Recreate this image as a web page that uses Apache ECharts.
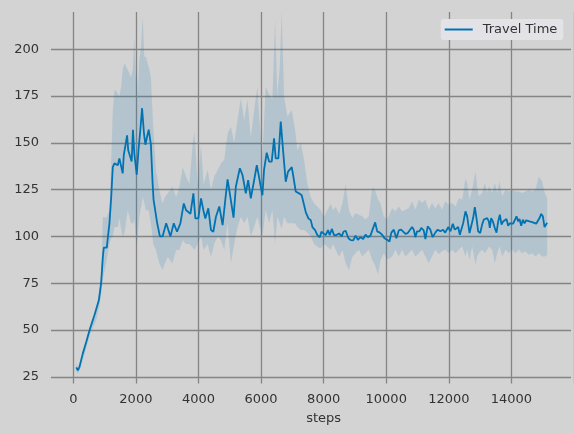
<!DOCTYPE html>
<html>
<head>
<meta charset="utf-8">
<script src="https://cdn.jsdelivr.net/npm/echarts@6/dist/echarts.min.js"></script>
<style>
html,body{margin:0;padding:0;background:#d3d3d3;}
#chart{width:574px;height:434px;}
</style>
</head>
<body>
<div id="chart"></div>
<script>
const seriesName = 'Travel Time';
const xAxisName = 'steps';

const lineSteps = [50,100,150,260,370,475,560,630,685,770,840,895,925,980,1020,1075,1105,1160,1210,1265,1315,1370,1420,1475,1525,1560,1610,1665,1700,1760,1810,1850,1895,1970,2030,2075,2140,2200,2245,2295,2350,2420,2475,2505,2560,2620,2705,2790,2905,3040,3145,3250,3355,3463,3537,3610,3674,3768,3830,3926,4010,4084,4147,4242,4326,4400,4484,4590,4695,4780,4853,4906,5042,5116,5242,5327,5432,5506,5590,5696,5780,5830,5905,5958,6010,6095,6170,6254,6328,6380,6465,6540,6614,6698,6772,6835,6890,6940,7015,7120,7205,7280,7333,7418,7492,7545,7630,7703,7778,7830,7893,7968,8040,8095,8160,8232,8306,8390,8475,8530,8600,8687,8760,8840,8913,8987,9070,9156,9230,9304,9388,9462,9536,9600,9684,9757,9831,9916,9990,10050,10127,10210,10285,10360,10422,10496,10570,10633,10707,10760,10812,10865,10940,11000,11076,11130,11203,11287,11360,11445,11520,11605,11690,11760,11852,11926,12000,12063,12116,12170,12222,12275,12328,12402,12455,12530,12592,12645,12698,12751,12804,12868,12930,12984,13037,13090,13143,13174,13217,13270,13333,13386,13440,13492,13545,13598,13650,13703,13756,13810,13862,13915,13968,14021,14074,14116,14170,14222,14275,14328,14381,14434,14487,14540,14593,14645,14698,14751,14804,14857,14910,14963,14995];
const lineValues = [30,28.5,30,37.5,43.7,50,54.4,58,58,66,75,89,94,93,94,102.5,107,121,137,139,140,138,141.7,142.6,133.7,143.5,144,154,146,145,140,157,144,133,147,155,168.5,155,149,153,157,149,128,119.5,119.5,107,100,100,107,100,107,102.5,107,117.6,114,113,112,123,109.6,109.6,120.3,114,109.6,115,103.4,102.5,110.5,116,106,119.4,130.5,124.8,110,126.6,136.4,132.8,123,130,120.3,130,138,133.7,126.6,122,135.5,144.7,140,140,152.4,141.7,141.7,161.3,146,129.2,134.6,133.7,137,132,124,123,122,116.8,113,109.6,108.7,105,103.4,100.7,99.5,102.5,102,100.7,103.4,100.7,104,100.7,100.7,101.6,100,102.5,103,99,98,97.9,100.4,98.2,99.6,98.6,100.9,99.6,100.4,104,107.5,102.7,102,100.9,99,98.2,97.3,102,103.6,99,103.2,103.6,103.2,101.4,101.8,101.4,105,103.6,99.6,102.7,102.7,104.5,103.2,98.6,105.4,103.6,99.6,102,103.6,102.7,103.6,102,105,102.7,106.8,103.6,104.5,105,100.9,100.4,107,113.4,110.7,101.8,102.7,109.8,115.7,109.8,102.7,101.8,106.3,109,108,109.8,108,104.5,109.8,108,104.5,102,108,111.6,106.3,108,108,109.3,105.7,107,108,106.8,107,110.7,108,109.3,105.7,108.9,107,108.6,107.9,108,108,107.5,108,106.8,107.5,109.8,112,110.7,105,105.4,107.3];

const bandSteps = [50,100,150,300,500,700,800,850,895,1000,1105,1160,1210,1265,1315,1370,1420,1475,1525,1580,1685,1790,1850,1895,1940,1970,2005,2050,2100,2160,2210,2260,2350,2420,2495,2580,2685,2790,2865,2955,3100,3220,3325,3430,3535,3640,3750,3800,3905,4010,4095,4220,4326,4430,4537,4642,4747,4853,4958,5063,5169,5274,5380,5485,5590,5696,5800,5850,5958,6063,6170,6275,6360,6434,6508,6571,6645,6751,6890,6995,7069,7174,7280,7386,7492,7598,7703,7809,7915,8020,8125,8200,8285,8390,8496,8600,8705,8810,8913,9020,9125,9230,9335,9440,9525,9630,9700,9810,9915,10075,10180,10285,10390,10496,10600,10707,10812,10918,11025,11130,11235,11340,11445,11550,11655,11760,11870,11980,12085,12190,12296,12402,12455,12530,12614,12720,12772,12825,12930,13015,13090,13143,13250,13333,13408,13482,13567,13672,13778,13884,13990,14095,14200,14306,14412,14518,14624,14730,14835,14920,14995];
const bandLower = [28,26.5,28,36,48,56,64,70,77,85.6,96,99,100,105,105,105,110,104,100,101.6,114,107,107,108.7,100,94.5,100,110,115,121,118,114,114,107,96,92.7,85.6,82,85.6,89,85.6,92.7,92.7,98,96,96,94,92.7,96,100,92.7,96,89,96,100,98,92.7,107,85.6,96,105,110.5,107,110.5,100,105,110.5,107,100,114,107,114,96,110.5,107,104,110.5,107,107,107,105,103.4,103.4,102,100,96,94.5,93.6,96,94.5,92.7,96,92.7,89,92.7,85.6,82,89,91,92.9,89.3,91,92.9,87.5,84.8,79.5,87,91,87.5,89.3,92.9,89.3,92.9,89.3,91,92.9,89.3,91,92.9,89.3,85.7,89.3,92.9,90.5,92,92.9,91,92.9,91,92.9,94.6,89.3,92.9,87.5,94.6,84.8,89.3,91,92.9,91,92.9,94.6,92.9,85.7,91,94.6,89.3,92.9,91,92.9,91,92.9,91,92,90,91,89.3,91,89.3,89.3,90];
const bandUpper = [32,30.5,32,40,53,61,73,82,110.5,110,114,140,167,178,178,176,175,180,189,192.5,189,185,190,206,185,189,175,194,200,217.5,196,196,190.7,185,158,135.5,125,117.6,121,123,126.6,121,126.6,137,132,128,150,156,128,149,128,135.5,125,132,135.5,139,141,155,158.6,150,162,174,162,173,153,167.5,180,165.8,142.6,180,176,173,215.7,174.7,190.7,220,174.7,164,167.5,157,146,150,141,128,121,117.6,116,114,110.5,114,117.6,114,116,112,117.6,128,114,110,112.5,111.6,110.7,109,110.7,126,125,119.6,117.9,110.7,109,115,113.4,116,113.4,114.3,115,118.8,114.3,119.6,117.9,119.6,114.3,117.9,115,117.9,114.3,118.8,117,117.9,116,120.5,119.6,131,128.6,119.6,125,134.8,126.8,121.4,123.2,128.6,123.2,126.8,123.2,128.6,123.2,129.5,121.4,125,124,125,124,124,123.2,124,125,124,125,132,129.5,123.2,120.5];

const lineColor = '#0173b2';
const bandColor = 'rgba(1,115,178,0.15)';
const gridColor = '#858585';
const textColor = '#333333';
const font = 'DejaVu Sans';

const chart = echarts.init(document.getElementById('chart'), null, {renderer: 'canvas'});

const option = {
  backgroundColor: '#d3d3d3',
  animation: false,
  textStyle: {fontFamily: font},
  legend: {
    data: [{name: seriesName, icon: 'rect'}],
    right: 10.7,
    top: 19,
    padding: [4, 6, 4, 4],
    itemWidth: 28,
    itemHeight: 2,
    itemGap: 0,
    backgroundColor: '#e3e3e7',
    borderRadius: 3,
    itemStyle: {color: lineColor},
    textStyle: {fontFamily: font, fontSize: 13, color: textColor, padding: [0, 0, 0, 5]}
  },
  grid: [
    {left: 51, right: 3, top: 12, bottom: 50.5},
    {left: 51, right: 3, top: 49.3, bottom: 57.2},
    {left: 73.3, right: -5, top: 12, bottom: 50.5}
  ],
  xAxis: [
    {gridIndex: 0, type: 'value', min: -750, max: 15750, show: false},
    {gridIndex: 1, type: 'value', min: 0, max: 1, show: false},
    {gridIndex: 2, type: 'value', min: 0, max: 16000, interval: 2000,
      axisLine: {show: false}, axisTick: {show: false},
      splitLine: {show: true, lineStyle: {color: gridColor, width: 1.3}},
      axisLabel: {margin: 10, fontSize: 13, color: textColor, fontFamily: font, showMaxLabel: false,
        formatter: function (v) { return String(v); }},
      name: xAxisName, nameLocation: 'middle', nameGap: 29,
      nameTextStyle: {fontSize: 13, color: textColor, fontFamily: font}
    }
  ],
  yAxis: [
    {gridIndex: 0, type: 'value', min: 21.4, max: 219.9, show: false},
    {gridIndex: 1, type: 'value', min: 25, max: 200, interval: 25,
      axisLine: {show: false}, axisTick: {show: false},
      splitLine: {show: true, lineStyle: {color: gridColor, width: 1.3}},
      axisLabel: {margin: 12, fontSize: 13, color: textColor, fontFamily: font,
        formatter: function (v) { return String(v); }}
    },
    {gridIndex: 2, type: 'value', min: 0, max: 1, show: false}
  ],
  series: [
    {
      type: 'custom',
      name: 'band',
      xAxisIndex: 0, yAxisIndex: 0,
      silent: true,
      z: 2,
      data: [[0, 100]],
      renderItem: function (params, api) {
        const pts = [];
        for (let i = 0; i < bandSteps.length; i++) pts.push(api.coord([bandSteps[i], bandUpper[i]]));
        for (let i = bandSteps.length - 1; i >= 0; i--) pts.push(api.coord([bandSteps[i], bandLower[i]]));
        return {type: 'polygon', shape: {points: pts}, style: {fill: bandColor, stroke: null}};
      }
    },
    {
      type: 'line',
      name: seriesName,
      xAxisIndex: 0, yAxisIndex: 0,
      symbol: 'none',
      z: 3,
      lineStyle: {color: lineColor, width: 1.8},
      itemStyle: {color: lineColor},
      data: lineSteps.map((s, i) => [s, lineValues[i]])
    }
  ]
};
chart.setOption(option);
</script>
</body>
</html>
